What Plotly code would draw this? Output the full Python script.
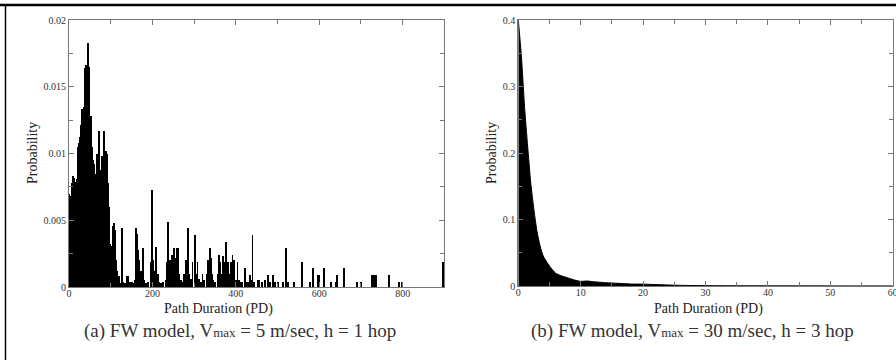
import plotly.graph_objects as go

# ---------------- Data ----------------
# Panel (a): dense region of the PD histogram (bin centres, probabilities)
dense_x = list(range(1, 121, 2))
dense_y = [0.0070, 0.0068, 0.0045, 0.0078, 0.0083, 0.0080, 0.0082, 0.0076, 0.0079, 0.0081,
           0.0105, 0.0108, 0.0098, 0.0112, 0.0121, 0.0133, 0.0127, 0.0135, 0.0148, 0.0164,
           0.0166, 0.0155, 0.0183, 0.0165, 0.0163, 0.0120, 0.0128, 0.0105, 0.0095, 0.0088,
           0.0092, 0.0070, 0.0085, 0.0100, 0.0080, 0.0117, 0.0105, 0.0088, 0.0076, 0.0098,
           0.0090, 0.0117, 0.0104, 0.0090, 0.0102, 0.0100, 0.0078, 0.0060, 0.0040, 0.0032,
           0.0031, 0.0030, 0.0046, 0.0048, 0.0040, 0.0043, 0.0020, 0.0012, 0.0006, 0.0008]

# Panel (a): sparse tail of the PD histogram
tail_x = [122, 126, 128, 130, 134, 138, 140, 142, 146, 150, 154, 158, 160, 162, 164, 166, 168,
          170, 172, 174, 177, 180, 184, 190, 196, 198, 200, 202, 205, 209, 211, 214, 216, 220,
          226, 232, 234, 237, 240, 243, 246, 248, 252, 254, 256, 258, 260, 262, 264, 268, 272,
          276, 280, 285, 288, 292, 296, 301, 304, 308, 312, 316, 320, 324, 330, 334, 337, 340,
          343, 346, 350, 356, 360, 363, 366, 369, 372, 376, 378, 381, 384, 388, 392, 394, 396,
          400, 404, 408, 412, 416, 422, 426, 430, 434, 438, 440, 444, 452, 456, 462, 470, 477,
          482, 490, 494, 502, 512, 520, 526, 540, 559, 578, 584, 596, 600, 611, 628, 640, 642,
          660, 690, 700, 726, 728, 730, 732, 734, 736, 768, 792, 798, 897]
tail_y = [0.0003, 0.0004, 0.0044, 0.0004, 0.0003, 0.0008, 0.0005, 0.0008, 0.0004, 0.0004, 0.0003,
          0.0005, 0.0044, 0.0038, 0.0040, 0.0028, 0.0020, 0.0010, 0.0012, 0.0004, 0.0029, 0.0005,
          0.0003, 0.0004, 0.0019, 0.0073, 0.0010, 0.0020, 0.0012, 0.0030, 0.0008, 0.0010, 0.0004,
          0.0003, 0.0004, 0.0005, 0.0019, 0.0049, 0.0008, 0.0020, 0.0024, 0.0010, 0.0029, 0.0010,
          0.0022, 0.0014, 0.0029, 0.0029, 0.0010, 0.0005, 0.0004, 0.0010, 0.0020, 0.0044, 0.0010,
          0.0006, 0.0019, 0.0039, 0.0010, 0.0019, 0.0006, 0.0004, 0.0010, 0.0005, 0.0010, 0.0020,
          0.0029, 0.0022, 0.0010, 0.0005, 0.0004, 0.0010, 0.0024, 0.0019, 0.0010, 0.0023, 0.0019,
          0.0034, 0.0019, 0.0019, 0.0010, 0.0019, 0.0024, 0.0010, 0.0020, 0.0005, 0.0019, 0.0005,
          0.0004, 0.0004, 0.0014, 0.0004, 0.0004, 0.0009, 0.0005, 0.0039, 0.0004, 0.0005, 0.0005,
          0.0004, 0.0005, 0.0009, 0.0004, 0.0009, 0.0004, 0.0004, 0.0004, 0.0029, 0.0004, 0.0004,
          0.0019, 0.0004, 0.0014, 0.0009, 0.0009, 0.0014, 0.0004, 0.0004, 0.0009, 0.0014, 0.0004,
          0.0004, 0.0009, 0.0009, 0.0009, 0.0009, 0.0009, 0.0009, 0.0009, 0.0004, 0.0004, 0.0019]

# Panel (b): PD distribution
b_x = [0, 0.5, 1, 1.5, 2, 2.5, 3, 3.5, 4, 5, 6, 7, 8, 9, 10, 11, 12, 14, 16, 18, 20, 22, 25,
       28, 32, 40, 50, 60]
b_y = [0.40, 0.345, 0.27, 0.21, 0.155, 0.115, 0.082, 0.060, 0.045, 0.030, 0.019, 0.015, 0.012,
       0.009, 0.007, 0.0075, 0.0065, 0.005, 0.004, 0.003, 0.0028, 0.0022, 0.0012, 0.0007, 0.0004,
       0.0002, 0.0001, 0.0001]

a_xticks = [0, 200, 400, 600, 800]
a_yticks = [0, 0.005, 0.01, 0.015, 0.02]
a_yticklabels = ["0", "0.005", "0.01", "0.015", "0.02"]
b_xticks = [0, 10, 20, 30, 40, 50, 60]
b_yticks = [0, 0.1, 0.2, 0.3, 0.4]
b_yticklabels = ["0", "0.1", "0.2", "0.3", "0.4"]

caption_a = "(a) FW model, V<span style='font-size:13px'>max</span> = 5 m/sec, h = 1 hop"
caption_b = "(b) FW model, V<span style='font-size:13px'>max</span> = 30 m/sec, h = 3 hop"

# ---------------- Figure ----------------
W, H = 896, 360
SERIF = "Liberation Serif, Times New Roman, serif"
AX = "#777777"
TXT = "#333333"

fig = go.Figure()
fig.add_trace(go.Bar(x=dense_x, y=dense_y, width=[2] * len(dense_x),
                     marker=dict(color="black", line=dict(width=0)),
                     xaxis="x", yaxis="y", showlegend=False))
fig.add_trace(go.Bar(x=tail_x, y=tail_y, width=[2.2] * len(tail_x),
                     marker=dict(color="black", line=dict(width=0)),
                     xaxis="x", yaxis="y", showlegend=False))
fig.add_trace(go.Scatter(x=b_x, y=b_y, mode="lines", fill="tozeroy",
                         line=dict(color="black", width=1, shape="spline", smoothing=0.6),
                         fillcolor="black", xaxis="x2", yaxis="y2", showlegend=False))

def px_x(p):
    return p / W

def px_y(p):
    return 1 - p / H

common = dict(showline=True, linecolor=AX, linewidth=1, mirror="allticks", ticks="inside",
              tickcolor=AX, ticklen=5, showgrid=False, zeroline=False, automargin=False,
              tickfont=dict(family=SERIF, size=10, color=TXT))

fig.update_layout(
    width=W, height=H, margin=dict(l=0, r=0, t=0, b=0, autoexpand=False),
    paper_bgcolor="white", plot_bgcolor="white", bargap=0,
    xaxis=dict(domain=[px_x(69), px_x(444.4)], range=[0, 900], anchor="y",
               tickvals=a_xticks, ticklabelstandoff=-3,
               minor=dict(dtick=100, tick0=0, ticks="inside", ticklen=4, tickcolor=AX),
               **common),
    yaxis=dict(domain=[px_y(287), px_y(20)], range=[0, 0.02], anchor="x",
               tickvals=a_yticks, ticktext=a_yticklabels,
               minor=dict(dtick=0.0025, tick0=0, ticks="inside", ticklen=4, tickcolor=AX),
               **common),
    xaxis2=dict(domain=[px_x(518.3), px_x(892.7)], range=[0, 60], anchor="y2",
                tickvals=b_xticks, ticklabelstandoff=-3, ticklabeloverflow="allow",
                minor=dict(dtick=5, tick0=0, ticks="inside", ticklen=4, tickcolor=AX),
                **common),
    yaxis2=dict(domain=[px_y(286), px_y(20)], range=[0, 0.4], anchor="x2",
                tickvals=b_yticks, ticktext=b_yticklabels,
                minor=dict(dtick=0.05, tick0=0, ticks="inside", ticklen=4, tickcolor=AX),
                **common),
)

annos = [
    dict(text="Probability", x=px_x(32), y=px_y(153), textangle=-90),
    dict(text="Path Duration (PD)", x=px_x(218), y=px_y(309)),
    dict(text="Probability", x=px_x(491), y=px_y(153), textangle=-90),
    dict(text="Path Duration (PD)", x=px_x(708), y=px_y(309)),
]
for a in annos:
    fig.add_annotation(xref="paper", yref="paper", showarrow=False, xanchor="center", yanchor="middle",
                       font=dict(family=SERIF, size=14, color="#222222"), **a)

fig.add_annotation(text=caption_a, xref="paper", yref="paper", x=px_x(240), y=px_y(331),
                   showarrow=False, xanchor="center", yanchor="middle",
                   font=dict(family=SERIF, size=19, color=TXT))
fig.add_annotation(text=caption_b, xref="paper", yref="paper", x=px_x(692), y=px_y(331),
                   showarrow=False, xanchor="center", yanchor="middle",
                   font=dict(family=SERIF, size=19, color=TXT))

# frame lines (top and left)
fig.add_shape(type="line", xref="paper", yref="paper", x0=0, x1=1, y0=px_y(5), y1=px_y(5),
              line=dict(color="black", width=2.5), layer="above")
fig.add_shape(type="line", xref="paper", yref="paper", x0=px_x(5.5), x1=px_x(5.5), y0=0, y1=px_y(4),
              line=dict(color="black", width=1.5), layer="above")

fig.write_html("out.html", config={"displayModeBar": False},
               post_script="document.body.style.margin='0';document.body.style.overflow='hidden';")
